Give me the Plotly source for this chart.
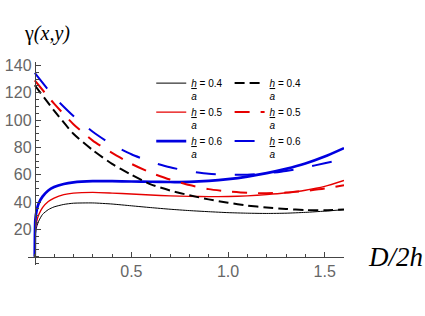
import plotly.graph_objects as go

# ---- data ----
x_solid = [0, 0.003, 0.01, 0.02, 0.04, 0.07, 0.1, 0.15, 0.2, 0.3, 0.4, 0.5, 0.6,
           0.7, 0.8, 0.9, 1.0, 1.1, 1.2, 1.3, 1.4, 1.5, 1.6]
solid_04 = [0, 16, 22, 26, 31, 34.5, 36.5, 38.3, 39.2, 39.4, 38.6, 37.3, 36.0,
            34.8, 33.8, 33.0, 32.3, 31.9, 31.7, 31.9, 32.5, 33.4, 34.5]
solid_05 = [0, 19, 26, 30.5, 36, 40.5, 43, 45.5, 46.6, 47.1, 46.6, 45.9, 45.2,
            44.6, 44.2, 44.0, 44.1, 44.6, 45.5, 46.8, 48.7, 51.5, 55.8]
solid_06 = [0, 27, 34, 39, 44, 48.5, 51, 53.3, 54.5, 55.3, 55.3, 55.1, 54.9,
            54.7, 54.8, 55.5, 56.8, 58.7, 61.2, 64.3, 68.2, 73.3, 79.5]

x_dash = [0, 0.1, 0.2, 0.3, 0.4, 0.5, 0.6, 0.7, 0.8, 0.9, 1.0, 1.1, 1.2, 1.3,
          1.4, 1.5, 1.6]
dash_04 = [125.5, 107, 90, 78, 68, 60, 53, 48.5, 45, 42, 39.5, 37.5, 36, 35,
           34.2, 34, 34.6]
dash_05 = [129, 112, 97, 85, 76, 68, 61.5, 56.5, 52.5, 49.5, 47.8, 46.8, 46.5,
           47, 48.2, 50, 52.4]
dash_06 = [134.5, 117, 103, 91.5, 82, 75, 69.5, 65.5, 62.5, 60.7, 60, 60.1, 61,
           62.8, 65.3, 68.5, 71.5]

ratios = ["0.4", "0.5", "0.6"]
x_ticks = [0.5, 1.0, 1.5]
y_ticks = [20, 40, 60, 80, 100, 120, 140]

BLACK = "#000000"
RED = "#e60000"
BLUE = "#0000e0"


def label(r):
    return "<i><u>h</u></i> = " + r + "<br><i>a</i>"


fig = go.Figure()

solid_specs = [(solid_04, BLACK, 1.0), (solid_05, RED, 1.4), (solid_06, BLUE, 2.7)]
for (ys, c, w), r in zip(solid_specs, ratios):
    fig.add_trace(go.Scatter(x=x_solid, y=ys, mode="lines", name=label(r),
                             line=dict(color=c, width=w, shape="spline", smoothing=0.6),
                             legend="legend"))

dash_specs = [(dash_04, BLACK, 2.0, "10px,5px"),
              (dash_05, RED, 2.0, "15px,11px"),
              (dash_06, BLUE, 2.0, "20px,19px")]
for (ys, c, w, d), r in zip(dash_specs, ratios):
    fig.add_trace(go.Scatter(x=x_dash, y=ys, mode="lines", name=label(r),
                             line=dict(color=c, width=w, dash=d, shape="spline", smoothing=0.6),
                             legend="legend2"))

xr = [-0.035, 1.6]
yr = [-6, 142.5]

axis_col = "#444444"
tick_font = dict(family="Liberation Sans, Arial, sans-serif", size=16, color="#666666")
leg_font = dict(family="Liberation Sans, Arial, sans-serif", size=10, color="#000")

fig.update_layout(
    width=425, height=316,
    margin=dict(l=28, r=81, t=62, b=51, autoexpand=False),
    paper_bgcolor="white", plot_bgcolor="white",
    showlegend=True,
    xaxis=dict(range=xr, showgrid=False, zeroline=False, showline=True,
               linecolor=axis_col, linewidth=1, automargin=False,
               anchor="free", position=(0 - yr[0]) / (yr[1] - yr[0]),
               tickvals=x_ticks, ticktext=["0.5", "1.0", "1.5"],
               ticks="inside", ticklen=5, tickcolor=axis_col, tickwidth=1,
               minor=dict(dtick=0.1, tick0=0, ticks="inside", ticklen=3,
                          tickcolor=axis_col, showgrid=False),
               tickfont=tick_font),
    yaxis=dict(range=yr, showgrid=False, zeroline=False, showline=True,
               linecolor=axis_col, linewidth=1, automargin=False,
               anchor="free", position=(0 - xr[0]) / (xr[1] - xr[0]),
               tickvals=y_ticks,
               ticks="inside", ticklen=5, tickcolor=axis_col, tickwidth=1,
               minor=dict(dtick=5, tick0=0, ticks="inside", ticklen=3,
                          tickcolor=axis_col, showgrid=False),
               tickfont=tick_font),
    legend=dict(x=0.39, y=0.96, xanchor="left", yanchor="top",
                bgcolor="rgba(0,0,0,0)", valign="top", tracegroupgap=0,
                font=leg_font),
    legend2=dict(x=0.638, y=0.96, xanchor="left", yanchor="top",
                 bgcolor="rgba(0,0,0,0)", valign="top", tracegroupgap=0,
                 font=leg_font),
    annotations=[
        dict(text="γ<i>(x,y)</i>", xref="paper", yref="paper",
             x=-0.02, y=1.075, xanchor="left", yanchor="bottom", showarrow=False,
             font=dict(family="Liberation Serif, Times New Roman, serif", size=20, color="#000")),
        dict(text="<i>D/2h</i>", xref="paper", yref="y",
             x=1.07, y=0, xanchor="left", yanchor="middle", showarrow=False,
             font=dict(family="Liberation Serif, Times New Roman, serif", size=27, color="#000")),
    ],
)

fig.write_html("out.html", post_script="document.body.style.margin='0';",
               config={"displayModeBar": False})
